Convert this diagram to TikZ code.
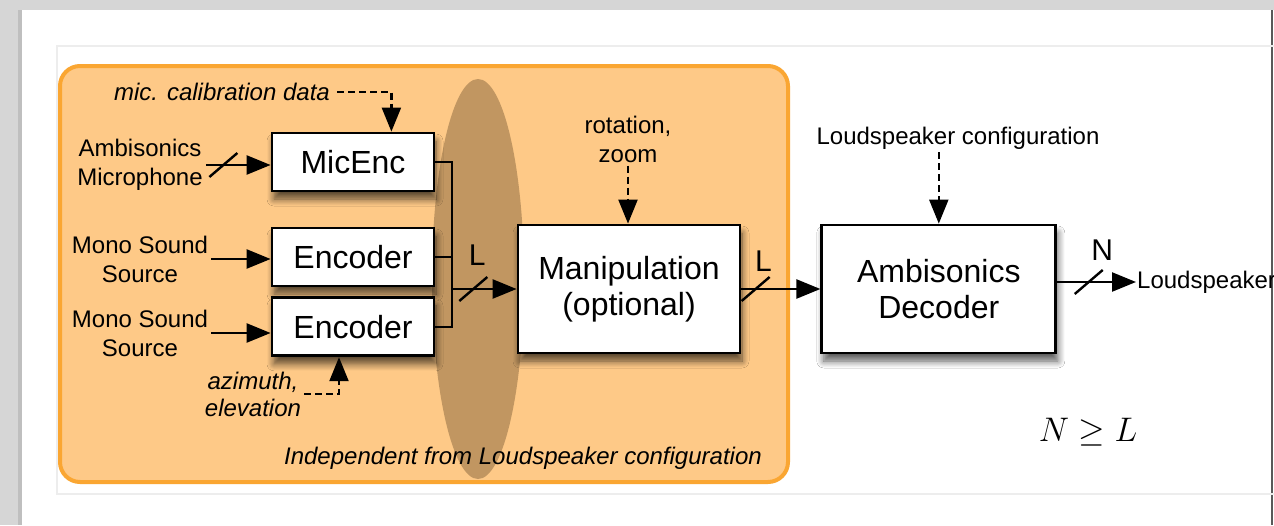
\documentclass[tikz,border=0pt]{standalone}
\usepackage{fontspec}
\setmainfont{Liberation Sans}
\usetikzlibrary{fit, positioning, arrows.meta, shadows.blur}

\definecolor{pagegray}{RGB}{214,214,214}
\definecolor{grpfill}{RGB}{254,201,135}
\definecolor{grpline}{RGB}{250,166,50}
\definecolor{hilite}{RGB}{193,150,97}

\begin{document}
\begin{tikzpicture}[x=1pt, y=-1pt,
    block/.style={draw, line width=2.8pt, fill=white, align=center, font=\fontsize{32}{36}\selectfont,
        blur shadow={shadow xshift=2pt, shadow yshift=-8pt, shadow blur radius=7pt, shadow blur steps=8, shadow opacity=65}},
    lbl/.style={align=center, inner sep=3pt, font=\fontsize{24}{29}\selectfont},
    note/.style={align=center, inner sep=3pt, font=\fontsize{24}{27}\selectfont\itshape},
    count/.style={inner sep=0pt, font=\fontsize{30}{32}\selectfont},
    wire/.style={line width=2.4pt},
    sig/.style={line width=2.4pt, -{Triangle[length=24pt, width=19pt]}},
    ctrl/.style={line width=2.2pt, dash pattern=on 7pt off 4pt, -{Triangle[length=24pt, width=19pt]}},
    busmark/.pic={\draw[-, solid, line width=2.4pt] (-14,12) -- (14,-12);}]

    \useasboundingbox (0,0) rectangle (1274,525);
    \fill[pagegray] (0,0) rectangle (1274,525);
    \fill[black!25] (18,10) rectangle (22,525);
    \fill[white] (22,10) rectangle (1274,525);
    \draw[black!65, line width=1.5pt] (1272,10) -- (1272,525);
    \draw[black!7, line width=1.5pt] (1274,46) -- (57,46) -- (57,494) -- (1274,494);

    \node[draw=grpline, fill=grpfill, line width=4pt, rounded corners=20pt,
          minimum width=728pt, minimum height=416pt] (indep) at (424,274) {};
    \fill[hilite] (478,279) ellipse [x radius=46pt, y radius=200pt];

    \node[block, minimum width=162pt, minimum height=58pt] (micenc) at (353,162) {MicEnc};
    \node[block, minimum width=162pt, minimum height=58pt] (enc1) at (353,257) {Encoder};
    \node[block, minimum width=162pt, minimum height=58pt, below = 9pt of enc1] (enc2) {Encoder};
    \node[block, minimum width=222pt, minimum height=128pt] (manip) at (629,289) {Manipulation\\(optional)};
    \node[block, minimum width=234pt, minimum height=128pt, right = 79pt of manip] (dec) {Ambisonics\\Decoder};

    \node[lbl] (ambimic) at (140,165) {Ambisonics\\Microphone};
    \node[lbl] (mono1) at (140,259) {Mono Sound\\Source};
    \node[lbl] (mono2) at (140,333) {Mono Sound\\Source};
    \node[note] (calib) at (222,92) {mic. calibration data};
    \node[note] (azel) at (253,394) {azimuth,\\elevation};
    \node[lbl] (rot) at (628,139) {rotation,\\zoom};
    \node[lbl] (lscfg) at (958,138) {Loudspeaker configuration};
    \node[lbl, anchor=west, inner sep=1pt] (lsout) at (1136,282) {Loudspeaker};
    \node[note, anchor=east] (indepnote) at (765,458) {Independent from Loudspeaker configuration};
    \node (cond) at (1088,432) {\scalebox{1.37}{\fontsize{24.88}{30}\selectfont$N \geq L$}};

    \coordinate (bus) at (452,289);
    \draw[wire] (micenc.east) -| (bus);
    \draw[wire] (enc2.east) -| (bus);
    \draw[wire] (enc1.east) -- (enc1.east -| bus);
    \draw[sig] (bus) -- pic[pos=0.33]{busmark} node[count, pos=0.39, above=22pt]{L} (manip.west);
    \draw[sig] (manip.east) -- pic[pos=0.18]{busmark} node[count, pos=0.28, above=16pt]{L} (dec.west);
    \draw[sig] ([yshift=7pt]dec.east) -- pic[pos=0.4]{busmark} node[count, pos=0.57, above=20pt]{N} (lsout.west);

    \draw[sig] (ambimic.east) -- pic[pos=0.27]{busmark} (ambimic.east -| micenc.west);
    \draw[sig] (mono1.east) -- (mono1.east -| enc1.west);
    \draw[sig] (mono2.east) -- (mono2.east -| enc2.west);

    \draw[ctrl] ([xshift=4pt]calib.east) -| ([xshift=-44pt]micenc.north east);
    \draw[ctrl] (azel.east) -| ([xshift=-14pt]enc2.south);
    \draw[ctrl] (rot.south) -- (rot.south |- manip.north);
    \draw[ctrl] (lscfg.south -| dec.north) -- (dec.north);
\end{tikzpicture}
\end{document}
